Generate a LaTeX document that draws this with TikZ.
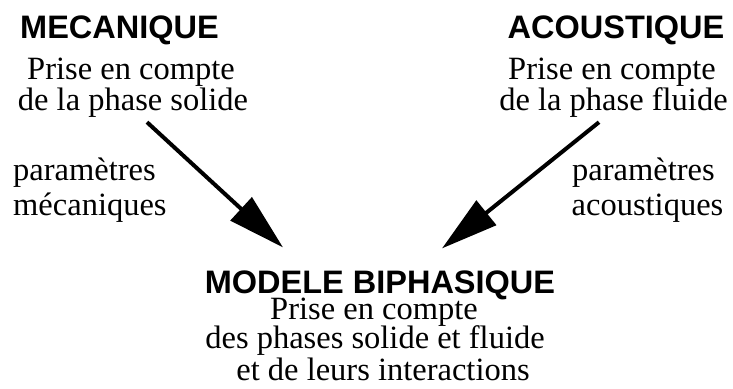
\documentclass[tikz,border=0pt]{standalone}
\usepackage{fontspec}
\setmainfont{Liberation Serif}
\setsansfont{Liberation Sans}
\usetikzlibrary{arrows.meta}

\begin{document}
\begin{tikzpicture}[
        x=1pt, y=-1pt,
        titre/.style={font=\sffamily\bfseries\fontsize{32.5}{36}\selectfont, anchor=base, inner sep=0pt, text depth=0pt},
        texte/.style={font=\fontsize{32.5}{36}\selectfont, anchor=base, inner sep=0pt, text depth=0pt},
        fleche/.style={-{Triangle[length=57pt, width=31pt]}, line width=4pt}
    ]
    \useasboundingbox (0,0) rectangle (733,388);
    % Titres
    \node[titre] (meca) at (119.5, 38) {MECANIQUE};
    \node[titre] (acou) at (616, 38) {ACOUSTIQUE};
    \node[titre] (modele) at (380, 293) {MODELE BIPHASIQUE};
    % Phase solide
    \node[texte] (priseS) at (131, 79) {Prise en compte};
    \node[texte] (solide) at (133, 110) {de la phase solide};
    \node[texte, anchor=base west] (paramM) at (13, 180) {paramètres};
    \node[texte, anchor=base west] (meca2) at (13, 215) {mécaniques};
    % Phase fluide
    \node[texte] (priseF) at (612, 79) {Prise en compte};
    \node[texte] (fluide) at (613.5, 110) {de la phase fluide};
    \node[texte] (paramA) at (643.5, 180) {paramètres};
    \node[texte] (acou2) at (647.5, 215) {acoustiques};
    % Modele biphasique
    \node[texte] (priseB) at (374, 319) {Prise en compte};
    \node[texte] (phases) at (375, 348) {des phases solide et fluide};
    \node[texte] (inter) at (383, 380) {et de leurs interactions};
    % Fleches
    \draw[fleche] ([xshift=14pt, yshift=-12pt]solide.south) -- ([xshift=-97pt, yshift=22.7pt]modele.north);
    \draw[fleche] ([xshift=-14.5pt, yshift=-12pt]fluide.south) -- ([xshift=62pt, yshift=21.7pt]modele.north);
\end{tikzpicture}
\end{document}
